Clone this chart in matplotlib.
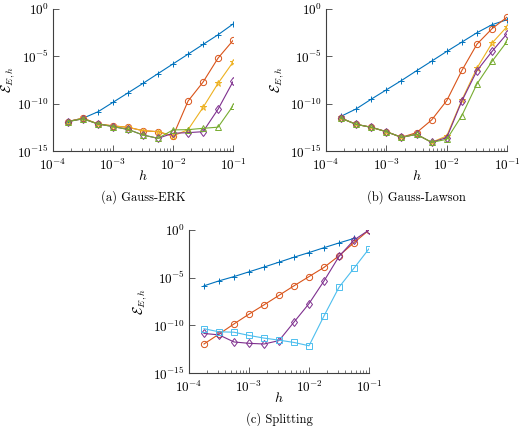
import matplotlib
matplotlib.use("Agg")
import matplotlib.pyplot as plt
import numpy as np
from matplotlib.ticker import FixedLocator, LogLocator, LogFormatterMathtext, NullLocator

plt.rcParams['font.family'] = 'cmr10'
plt.rcParams['mathtext.fontset'] = 'cm'
plt.rcParams['axes.formatter.use_mathtext'] = True
plt.rcParams['font.size'] = 9

# step sizes (shared by all panels)
h = [1.78e-4, 3.16e-4, 5.62e-4, 1.0e-3, 1.78e-3, 3.16e-3,
     5.62e-3, 1.0e-2, 1.78e-2, 3.16e-2, 5.62e-2, 1.0e-1]

# (a) Gauss-ERK
erk_s1 = [1.3e-12, 2.9e-12, 1.4e-11, 1.4e-10, 1.4e-9, 1.4e-8, 1.5e-7, 1.6e-6, 1.7e-5, 1.8e-4, 1.9e-3, 2.6e-2]
erk_s2 = [1.3e-12, 2.9e-12, 7.2e-13, 4.5e-13, 3.2e-13, 1.4e-13, 1.1e-13, 3.9e-14, 1.9e-10, 1.9e-8, 6.5e-6, 4.8e-4]
erk_s3 = [1.3e-12, 2.9e-12, 7.2e-13, 4.5e-13, 3.2e-13, 1.4e-13, 1.1e-13, 3.9e-14, 1.8e-13, 4.0e-11, 1.4e-8, 2.5e-6]
erk_s4 = [1.3e-12, 2.5e-12, 7.2e-13, 3.8e-13, 1.9e-13, 4.9e-14, 2.2e-14, 7.5e-14, 8.7e-14, 1.1e-13, 2.6e-11, 2.2e-8]
erk_s5 = [1.3e-12, 2.5e-12, 7.2e-13, 3.8e-13, 1.9e-13, 4.9e-14, 2.2e-14, 1.7e-13, 1.8e-13, 2.5e-13, 3.3e-13, 6.0e-11]

# (b) Gauss-Lawson
law_s1 = [4.7e-12, 2.8e-11, 3.0e-10, 2.9e-9, 2.8e-8, 3.0e-7, 3.1e-6, 3.3e-5, 3.2e-4, 3.1e-3, 2.2e-2, 7.4e-2]
law_s2 = [2.9e-12, 6.6e-13, 3.2e-13, 1.1e-13, 2.8e-14, 8.7e-14, 1.9e-12, 2.1e-10, 3.2e-7, 1.9e-4, 8.3e-3, 1.4e-1]
law_s3 = [2.9e-12, 6.6e-13, 3.2e-13, 1.1e-13, 2.8e-14, 5.8e-14, 8.3e-15, 3.9e-14, 2.5e-10, 5.6e-7, 2.5e-4, 1.4e-2]
law_s4 = [2.9e-12, 6.6e-13, 3.2e-13, 1.1e-13, 2.8e-14, 5.8e-14, 8.3e-15, 2.6e-14, 1.9e-10, 3.0e-7, 3.3e-5, 2.5e-3]
law_s5 = [2.9e-12, 6.6e-13, 3.2e-13, 1.1e-13, 2.8e-14, 5.8e-14, 8.3e-15, 1.7e-14, 5.5e-12, 1.2e-8, 2.9e-6, 3.8e-4]

# (c) Splitting
spl_s1 = [1.4e-6, 4.6e-6, 1.3e-5, 4.1e-5, 1.3e-4, 4.2e-4, 1.4e-3, 4.3e-3, 1.4e-2, 4.4e-2, 1.3e-1, np.nan]
spl_s2 = [1.1e-12, 1.2e-11, 1.4e-10, 1.5e-9, 1.4e-8, 1.4e-7, 1.4e-6, 1.3e-5, 1.2e-4, 2.0e-3, 4.7e-2, 1.0]
spl_s4 = [1.4e-11, 1.0e-11, 1.8e-12, 1.3e-12, 1.1e-12, 2.5e-12, 2.2e-10, 1.9e-8, 4.6e-6, 1.7e-3, 8.9e-2, 1.0]
spl_s6 = [4.4e-11, 2.1e-11, 1.9e-11, 8.7e-12, 4.6e-12, 2.8e-12, 1.6e-12, 7.2e-13, 1.0e-9, 1.0e-6, 1.0e-4, 1.1e-2]

# series styles: colour, marker
styles = {
    's1': ('#0072BD', '+'),
    's2': ('#D95319', 'o'),
    's3': ('#EDB120', '*'),
    's4': ('#7E2F8E', 'd'),
    's5': ('#77AC30', '^'),
    's6': ('#4DBEEE', 's'),
}

fig = plt.figure(figsize=(5.22, 4.26), dpi=100)
ax_a = fig.add_axes([0.1015, 0.6455, 0.345, 0.3334])
ax_b = fig.add_axes([0.6245, 0.6455, 0.347, 0.3334])
ax_c = fig.add_axes([0.362, 0.1244, 0.345, 0.3357])

panels = [
    (ax_a, [('s1', erk_s1), ('s2', erk_s2), ('s3', erk_s3), ('s4', erk_s4), ('s5', erk_s5)], '(a) Gauss-ERK', -0.25),
    (ax_b, [('s1', law_s1), ('s2', law_s2), ('s3', law_s3), ('s4', law_s4), ('s5', law_s5)], '(b) Gauss-Lawson', -0.27),
    (ax_c, [('s1', spl_s1), ('s2', spl_s2), ('s4', spl_s4), ('s6', spl_s6)], '(c) Splitting', -0.27),
]

for ax, series, caption, ylab_x in panels:
    for key, vals in series:
        color, marker = styles[key]
        ms = 5 if marker in ('+', '*') else 4.5
        ax.plot(h, vals, color=color, marker=marker, markersize=ms, linewidth=0.8,
                markerfacecolor='none', markeredgewidth=0.7)
    ax.set_xscale('log')
    ax.set_yscale('log')
    ax.set_xlim(1e-4, 1e-1)
    ax.set_ylim(1e-15, 1e0)
    ax.yaxis.set_major_locator(FixedLocator([1e-15, 1e-10, 1e-5, 1e0]))
    ax.yaxis.set_minor_locator(NullLocator())
    ax.yaxis.set_major_formatter(LogFormatterMathtext())
    ax.xaxis.set_major_locator(FixedLocator([1e-4, 1e-3, 1e-2, 1e-1]))
    ax.xaxis.set_minor_locator(LogLocator(base=10, subs=np.arange(2, 10), numticks=20))
    ax.xaxis.set_major_formatter(LogFormatterMathtext())
    for side in ['top', 'right']:
        ax.spines[side].set_visible(False)
    for side in ['left', 'bottom']:
        ax.spines[side].set_color('#404040')
        ax.spines[side].set_linewidth(0.8)
    ax.tick_params(which='major', direction='in', length=4, width=0.6, color='#404040',
                   labelsize=9.5)
    ax.tick_params(axis='y', which='major', pad=3)
    ax.tick_params(axis='x', which='major', pad=5)
    ax.tick_params(which='minor', direction='in', length=2, width=0.5, color='#404040')
    ax.set_xlabel('$h$', fontsize=10, va='center')
    ax.set_ylabel(r'$\mathcal{E}_{E,h}$', fontsize=10, va='center')
    ax.xaxis.set_label_coords(0.5, -0.175)
    ax.yaxis.set_label_coords(ylab_x, 0.5)
    pos = ax.get_position()
    fig.text((pos.x0 + pos.x1) / 2, pos.y0 - 0.108, caption, ha='center', va='center', fontsize=9)

fig.savefig('out.png', dpi=100)
